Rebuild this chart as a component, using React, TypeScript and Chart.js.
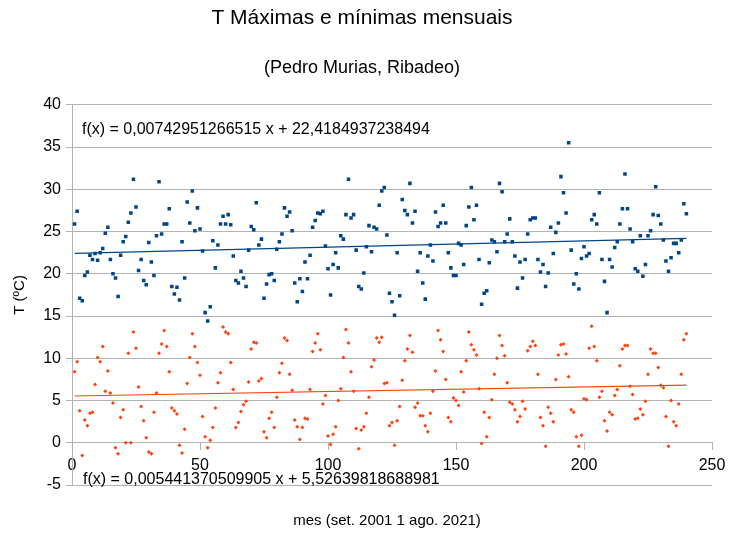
import { useEffect, useRef } from "react";
import { Chart, registerables } from "chart.js";

Chart.register(...registerables);

const TITLE = "T Máximas e mínimas mensuais";
const SUBTITLE = "(Pedro Murias, Ribadeo)";
const X_LABEL = "mes (set. 2001 1 ago. 2021)";
const Y_LABEL = "T (ºC)";

const X_TICKS = [0, 50, 100, 150, 200, 250];
const Y_TICKS = [-5, 0, 5, 10, 15, 20, 25, 30, 35, 40];

// Monthly maximum temperatures, month 1 = Sept 2001 ... month 240 = Aug 2021
const T_MAX = [
  25.9, 27.4, 17.1, 16.8, 19.8, 20.2, 22.2, 21.7, 22.4, 21.6, 22.5, 23.0,
  24.8, 25.5, 21.7, 20.0, 19.5, 17.3, 22.2, 23.8, 24.4, 26.1, 27.2, 31.2,
  27.9, 20.4, 21.7, 19.2, 18.7, 23.7, 21.4, 19.8, 24.5, 30.9, 24.7, 25.9,
  25.9, 27.7, 18.5, 17.6, 18.4, 16.9, 23.8, 19.5, 28.5, 26.0, 29.8, 25.1,
  27.8, 25.3, 22.7, 15.4, 14.4, 16.1, 23.9, 20.7, 23.4, 25.9, 26.8, 25.9,
  27.0, 25.8, 22.1, 19.2, 18.9, 20.3, 19.5, 18.5, 22.8, 25.6, 25.2, 28.4,
  23.4, 24.1, 17.1, 18.8, 19.9, 20.0, 19.2, 22.9, 23.8, 24.7, 27.8, 26.8,
  27.3, 25.1, 18.9, 16.7, 19.4, 17.9, 21.4, 19.4, 22.2, 25.5, 26.3, 27.2,
  27.1, 27.4, 23.3, 20.6, 17.5, 21.1, 22.5, 20.7, 24.5, 24.1, 27.0, 31.2,
  26.6, 27.0, 22.8, 18.5, 18.2, 20.1, 23.2, 25.7, 22.6, 25.5, 25.3, 28.1,
  29.8, 30.2, 24.6, 17.7, 16.7, 15.1, 22.5, 17.4, 28.8, 27.5, 27.0, 30.7,
  26.0, 27.4, 20.3, 22.5, 18.9, 17.0, 22.1, 23.4, 21.5, 27.3, 25.6, 26.0,
  28.1, 26.0, 22.5, 20.7, 19.8, 19.8, 23.6, 23.4, 21.1, 25.7, 27.9, 30.2,
  26.4, 28.1, 21.7, 16.4, 17.7, 18.0, 21.3, 24.0, 23.8, 22.6, 30.7, 29.7,
  23.8, 24.7, 26.5, 23.8, 22.1, 18.3, 21.4, 19.5, 21.7, 24.7, 26.4, 26.6,
  26.6, 21.7, 20.2, 21.1, 18.5, 20.1, 25.5, 22.4, 24.9, 26.0, 31.5, 29.6,
  27.2, 35.5, 22.8, 18.8, 20.0, 18.2, 21.8, 23.2, 22.1, 22.4, 26.4, 27.0,
  25.9, 29.6, 21.7, 19.1, 15.4, 21.7, 20.8, 23.1, 23.8, 25.9, 27.7, 31.8,
  27.7, 25.3, 23.8, 20.6, 20.3, 24.5, 19.7, 21.1, 24.5, 25.1, 27.0, 30.3,
  26.9, 25.9, 24.0, 21.5, 20.3, 21.9, 23.6, 23.6, 22.5, 24.0, 28.3, 27.1,
];

// Monthly minimum temperatures
const T_MIN = [
  8.4, 9.6, 3.8, -1.5, 2.7, 2.0, 3.5, 3.6, 6.9, 10.1, 9.6, 11.4,
  6.1, 8.5, 5.9, 4.7, -0.6, -1.3, 3.0, 3.9, 0.0, 10.6, 0.0, 13.1,
  11.2, 6.6, 4.3, 2.6, 0.6, -1.1, -1.3, 3.6, 5.9, 10.6, 11.7, 13.3,
  11.4, 8.4, 4.1, 3.8, 3.4, -0.3, -1.2, 1.6, 7.0, 10.1, 12.9, 11.4,
  9.5, 8.0, 3.1, 0.7, -0.6, 0.3, 1.8, 4.1, 7.1, 8.3, 13.7, 13.1,
  12.9, 9.5, 6.3, 1.8, 2.4, 3.7, 4.5, 4.9, 7.2, 11.1, 11.9, 11.8,
  7.3, 7.6, 1.3, 0.6, 2.9, 3.6, 1.8, 5.4, 8.3, 9.4, 12.4, 12.1,
  8.1, 6.2, 2.7, 1.9, 0.4, 1.8, 2.9, 2.8, 6.3, 10.8, 11.8, 12.9,
  11.0, 4.6, 5.6, 0.8, -0.2, 1.0, 1.9, 5.0, 6.4, 10.1, 13.4, 11.8,
  8.4, 6.1, 1.7, -0.7, 1.5, 1.9, 3.5, 5.4, 9.0, 9.8, 12.4, 11.9,
  12.5, 7.0, 7.1, 2.0, 2.4, -0.3, 2.6, 4.3, 7.4, 9.7, 11.1, 12.7,
  10.7, 4.2, 4.7, 3.2, 3.2, 2.0, 1.3, 3.5, 6.1, 8.5, 13.3, 12.2,
  10.8, 7.5, 3.0, 2.5, 5.3, 5.0, 4.4, 8.4, 6.0, 9.7, 13.1, 11.6,
  11.0, 10.4, 6.4, -0.1, 3.6, 0.7, 3.0, 5.1, 8.1, 10.0, 12.7, 11.5,
  10.3, 7.1, 4.8, 4.6, 3.9, 2.5, 3.1, 4.9, 4.0, 10.9, 11.4, 12.0,
  11.5, 8.1, 3.0, 2.0, -0.4, 4.2, 3.5, 2.5, 7.5, 10.4, 11.6, 11.7,
  10.5, 7.8, 3.9, 3.6, 0.7, -0.4, 0.9, 5.2, 5.1, 11.2, 13.8, 11.4,
  9.7, 5.4, 6.1, 2.6, 1.4, 3.6, 3.3, 5.6, 6.3, 9.1, 11.1, 11.5,
  11.5, 6.7, 5.7, 2.8, 2.9, 4.0, 3.3, 4.9, 8.1, 11.1, 10.6, 10.6,
  8.9, 6.8, 6.5, 3.1, -0.4, 5.0, 2.5, 2.0, 4.6, 8.1, 12.2, 12.9,
];

// Linear trend coefficients (as printed on the chart)
const MAX_SLOPE = 0.00742951266515;
const MAX_INTERCEPT = 22.4184937238494;
const MAX_EQUATION = "f(x) = 0,00742951266515 x + 22,4184937238494";
const MIN_SLOPE = 0.005441370509905;
const MIN_INTERCEPT = 5.52639818688981;
const MIN_EQUATION = "f(x) = 0,005441370509905 x + 5,52639818688981";

const BLUE = "#004586";
const RED = "#ff420e";
const GRID = "#b3b3b3";
const FONT = '"Liberation Sans", Arial, sans-serif';

export default function App() {
  const ref = useRef<HTMLCanvasElement | null>(null);

  useEffect(() => {
    document.body.style.margin = "0";
    const canvas = ref.current;
    if (!canvas) return;

    const maxPts = T_MAX.map((v, i) => ({ x: i + 1, y: v }));
    const minPts = T_MIN.map((v, i) => ({ x: i + 1, y: v }));
    const firstMonth = 1;
    const lastMonth = T_MAX.length;
    const trend = (a: number, b: number) => [
      { x: firstMonth, y: a * firstMonth + b },
      { x: lastMonth, y: a * lastMonth + b },
    ];

    const textPlugin = {
      id: "equationText",
      afterDraw(chart: any) {
        const { ctx, chartArea } = chart;
        ctx.save();
        ctx.fillStyle = "#000";
        ctx.textBaseline = "middle";
        ctx.textAlign = "left";
        ctx.font = `16px ${FONT}`;
        ctx.fillText(MAX_EQUATION, chartArea.left + 10, chartArea.top + 25);
        ctx.fillText(MIN_EQUATION, chartArea.left + 11, chartArea.bottom - 5);
        ctx.font = `15px ${FONT}`;
        ctx.textAlign = "center";
        ctx.fillText(X_LABEL, (chartArea.left + chartArea.right) / 2 - 5, chartArea.bottom + 36);
        ctx.restore();
      },
    };

    Chart.defaults.font.family = FONT;
    Chart.defaults.color = "#000";

    const chart = new Chart(canvas, {
      type: "scatter",
      data: {
        datasets: [
          {
            label: "max trend",
            data: trend(MAX_SLOPE, MAX_INTERCEPT),
            showLine: true,
            borderColor: BLUE,
            borderWidth: 1.2,
            pointRadius: 0,
          },
          {
            label: "min trend",
            data: trend(MIN_SLOPE, MIN_INTERCEPT),
            showLine: true,
            borderColor: RED,
            borderWidth: 1.2,
            pointRadius: 0,
          },
          {
            label: "T máx",
            data: maxPts,
            pointStyle: "rect",
            pointRadius: 2.5,
            pointBorderWidth: 0,
            backgroundColor: BLUE,
            borderColor: BLUE,
          },
          {
            label: "T mín",
            data: minPts,
            pointStyle: "rectRot",
            pointRadius: 2,
            pointBorderWidth: 0,
            backgroundColor: RED,
            borderColor: RED,
          },
        ],
      },
      options: {
        responsive: false,
        animation: false,
        layout: { padding: { left: 12, right: 20, top: 0, bottom: 53 } },
        plugins: {
          legend: { display: false },
          tooltip: { enabled: false },
          title: {
            display: true,
            text: TITLE,
            color: "#000",
            font: { size: 21, weight: "normal", family: FONT },
            padding: { top: 6, bottom: 0 },
          },
          subtitle: {
            display: true,
            text: SUBTITLE,
            color: "#000",
            font: { size: 18, weight: "normal", family: FONT },
            padding: { top: 26, bottom: 26 },
          },
        },
        scales: {
          x: {
            type: "linear",
            position: { y: 0 } as any,
            min: X_TICKS[0],
            max: X_TICKS[X_TICKS.length - 1],
            afterBuildTicks: (s: any) => {
              s.ticks = X_TICKS.map((v) => ({ value: v }));
            },
            afterFit: (s: any) => {
              s.height = 0;
            },
            ticks: {
              font: { size: 16 },
              color: "#000",
              padding: 6,
              maxRotation: 0,
              autoSkip: false,
            },
            grid: {
              drawOnChartArea: false,
              drawTicks: true,
              tickLength: 7,
              color: GRID,
            },
            border: { color: GRID },
          },
          y: {
            type: "linear",
            min: Y_TICKS[0],
            max: Y_TICKS[Y_TICKS.length - 1],
            afterBuildTicks: (s: any) => {
              s.ticks = Y_TICKS.map((v) => ({ value: v }));
            },
            afterFit: (s: any) => {
              s.width = 60;
            },
            ticks: {
              font: { size: 16 },
              color: "#000",
              padding: 5,
            },
            grid: { color: GRID, tickLength: 6 },
            border: { color: GRID },
            title: {
              display: true,
              text: Y_LABEL,
              color: "#000",
              font: { size: 15, lineHeight: 1 },
              padding: { top: 0, bottom: 0 },
            },
          },
        },
      },
      plugins: [textPlugin],
    });

    return () => chart.destroy();
  }, []);

  return (
    <div style={{ width: 732, height: 538 }}>
      <canvas ref={ref} width={732} height={538} style={{ display: "block" }} />
    </div>
  );
}
